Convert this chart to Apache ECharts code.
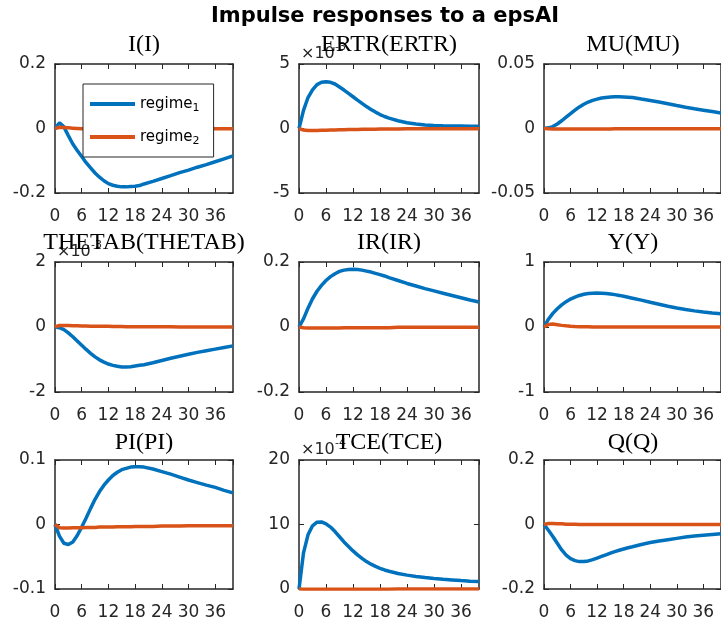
<!DOCTYPE html>
<html><head><meta charset="utf-8">
<script src="https://cdn.jsdelivr.net/npm/echarts@6/dist/echarts.min.js"></script>
<style>html,body{margin:0;padding:0;background:#fff}#c{width:721px;height:624px}</style>
</head><body><div id="c"></div>
<script>
// ---- data (horizon periods) ----
const periods = [0,1,2,3,4,5,6,7,8,9,10,11,12,13,14,15,16,17,18,19,20,22,24,26,28,30,32,34,36,38,40];
const seriesNames = ['regime1', 'regime2'];
const mainTitle = 'Impulse responses to a epsAI';
const panelTitles = ['I(I)', 'ERTR(ERTR)', 'MU(MU)', 'THETAB(THETAB)', 'IR(IR)', 'Y(Y)', 'PI(PI)', 'TCE(TCE)', 'Q(Q)'];
const xTicks = [0, 6, 12, 18, 24, 30, 36];

const I_r1 = [0,0.018,0.005,-0.022,-0.048,-0.068,-0.087,-0.106,-0.122,-0.138,-0.151,-0.162,-0.171,-0.176,-0.179,-0.181,-0.181,-0.180,-0.179,-0.177,-0.172,-0.164,-0.155,-0.146,-0.137,-0.129,-0.120,-0.112,-0.103,-0.094,-0.085];
const I_r2 = [0,0.004,0.003,0.002,0.001,0,-0.001,-0.001,-0.002,-0.002,-0.002,-0.002,-0.002,-0.002,-0.002,-0.002,-0.002,-0.002,-0.002,-0.002,-0.002,-0.002,-0.002,-0.002,-0.002,-0.002,-0.001,-0.001,-0.001,-0.001,-0.001];
// ERTR in units of 1e-3
const ERTR_r1 = [0,1.4,2.4,3.0,3.4,3.58,3.62,3.58,3.45,3.22,2.98,2.72,2.46,2.2,1.95,1.7,1.48,1.27,1.08,0.93,0.8,0.6,0.45,0.35,0.28,0.24,0.21,0.2,0.19,0.18,0.17];
const ERTR_r2 = [0,-0.12,-0.16,-0.16,-0.15,-0.14,-0.13,-0.12,-0.11,-0.1,-0.09,-0.08,-0.075,-0.07,-0.065,-0.06,-0.055,-0.05,-0.045,-0.04,-0.035,-0.03,-0.025,-0.02,-0.02,-0.015,-0.015,-0.01,-0.01,-0.01,-0.01];
const MU_r1 = [0,0.0005,0.0015,0.0035,0.006,0.0088,0.0115,0.0142,0.0167,0.0188,0.0205,0.0218,0.0228,0.0236,0.0241,0.0244,0.0246,0.0246,0.0245,0.0243,0.024,0.0228,0.0217,0.0205,0.0192,0.0178,0.0165,0.0153,0.0142,0.0131,0.012];
const MU_r2 = [0,-0.0002,-0.0003,-0.0004,-0.0004,-0.0004,-0.0004,-0.0004,-0.0004,-0.0004,-0.0003,-0.0003,-0.0003,-0.0003,-0.0003,-0.0003,-0.0002,-0.0002,-0.0002,-0.0002,-0.0002,-0.0002,-0.0002,-0.0001,-0.0001,-0.0001,-0.0001,-0.0001,-0.0001,-0.0001,-0.0001];
// THETAB in units of 1e-3
const THETAB_r1 = [0,-0.02,-0.08,-0.18,-0.3,-0.43,-0.56,-0.69,-0.81,-0.92,-1.01,-1.08,-1.14,-1.18,-1.21,-1.23,-1.23,-1.22,-1.2,-1.18,-1.16,-1.1,-1.03,-0.96,-0.9,-0.84,-0.78,-0.73,-0.68,-0.63,-0.58];
const THETAB_r2 = [0,0.05,0.05,0.045,0.04,0.035,0.03,0.03,0.025,0.025,0.02,0.02,0.02,0.015,0.015,0.015,0.01,0.01,0.01,0.01,0.01,0.005,0.005,0.005,0,0,0,0,0,0,0];
const IR_r1 = [0,0.025,0.058,0.087,0.11,0.128,0.143,0.155,0.164,0.171,0.175,0.177,0.178,0.177,0.175,0.172,0.169,0.165,0.161,0.157,0.152,0.143,0.134,0.126,0.118,0.111,0.104,0.097,0.09,0.083,0.077];
const IR_r2 = [0,-0.002,-0.003,-0.003,-0.003,-0.003,-0.003,-0.003,-0.003,-0.003,-0.002,-0.002,-0.002,-0.002,-0.002,-0.002,-0.002,-0.002,-0.002,-0.002,-0.002,-0.001,-0.001,-0.001,-0.001,-0.001,-0.001,-0.001,-0.001,-0.001,-0.001];
const Y_r1 = [0,0.12,0.21,0.28,0.34,0.39,0.43,0.46,0.485,0.503,0.515,0.521,0.523,0.521,0.516,0.508,0.498,0.486,0.472,0.458,0.443,0.413,0.38,0.35,0.32,0.292,0.268,0.248,0.23,0.215,0.203];
const Y_r2 = [0,0.04,0.045,0.035,0.025,0.018,0.012,0.008,0.005,0.003,0.002,0.001,0,0,0,0,0,0,0,0,0,0,0,0,0,0,0,0,0,0,0];
const PI_r1 = [0,-0.018,-0.029,-0.031,-0.027,-0.017,-0.004,0.01,0.025,0.039,0.051,0.061,0.069,0.076,0.081,0.085,0.087,0.089,0.0895,0.0895,0.089,0.086,0.082,0.078,0.0735,0.069,0.065,0.061,0.0575,0.053,0.049];
const PI_r2 = [0,-0.005,-0.0055,-0.0055,-0.005,-0.005,-0.005,-0.0045,-0.0045,-0.0045,-0.004,-0.004,-0.004,-0.004,-0.0035,-0.0035,-0.0035,-0.0035,-0.003,-0.003,-0.003,-0.003,-0.0025,-0.0025,-0.0025,-0.002,-0.002,-0.002,-0.002,-0.002,-0.002];
// TCE in units of 1e-4
const TCE_r1 = [0,5.6,8.4,9.8,10.35,10.4,10.1,9.6,8.9,8.1,7.3,6.6,5.9,5.3,4.75,4.25,3.85,3.5,3.2,2.95,2.75,2.4,2.15,1.95,1.78,1.62,1.5,1.4,1.3,1.22,1.15];
const TCE_r2 = [0,-0.03,-0.03,-0.03,-0.03,-0.03,-0.03,-0.03,-0.03,-0.03,-0.02,-0.02,-0.02,-0.02,-0.02,-0.02,-0.02,-0.02,-0.02,-0.02,-0.02,-0.01,-0.01,-0.01,-0.01,-0.01,-0.01,-0.01,-0.01,-0.01,-0.01];
const Q_r1 = [0,-0.018,-0.037,-0.058,-0.079,-0.095,-0.106,-0.112,-0.115,-0.115,-0.113,-0.109,-0.104,-0.099,-0.094,-0.089,-0.084,-0.08,-0.076,-0.072,-0.069,-0.062,-0.056,-0.051,-0.047,-0.043,-0.039,-0.036,-0.033,-0.031,-0.029];
const Q_r2 = [0,0.003,0.003,0.002,0.002,0.001,0.001,0.001,0,0,0,0,0,0,0,0,0,0,0,0,0,0,0,0,0,0,0,0,0,0,0];

const panelData = [[I_r1,I_r2],[ERTR_r1,ERTR_r2],[MU_r1,MU_r2],[THETAB_r1,THETAB_r2],[IR_r1,IR_r2],[Y_r1,Y_r2],[PI_r1,PI_r2],[TCE_r1,TCE_r2],[Q_r1,Q_r2]];
const yRanges = [[-0.2,0.2,0.2],[-5,5,5],[-0.05,0.05,0.05],[-2,2,2],[-0.2,0.2,0.2],[-1,1,1],[-0.1,0.1,0.1],[0,20,10],[-0.2,0.2,0.2]];
const exponents = [null,'-3',null,'-3',null,null,null,'-4',null];

// ---- layout ----
const colors = ['#0072BD', '#D95319'];
const L = [55, 299, 544], W = [178, 180, 178];
const T = [64, 262, 460], H = [129, 130, 129];
const titleY = [45, 243, 443];
const axisColor = '#262626';
const tickFont = 'DejaVu Sans';

const grid = [], xAxis = [], yAxis = [], series = [], graphic = [];
graphic.push({type:'text', x:385, y:17, z:100, style:{text:mainTitle, x:0, y:0, textAlign:'center', textVerticalAlign:'middle', font:'bold 21px "DejaVu Sans"', fill:'#000'}});

panelData.forEach((pd, i) => {
  const r = Math.floor(i/3), c = i % 3;
  grid.push({left:L[c], top:T[r], width:W[c], height:H[r], show:false, containLabel:false});
  const lineS = {show:true, onZero:false, lineStyle:{color:axisColor, width:1.5}};
  const tickS = {show:true, inside:true, length:5, lineStyle:{color:axisColor, width:1}};
  xAxis.push({gridIndex:i, type:'value', min:0, max:40, interval:6, position:'bottom',
    axisLine:lineS, axisTick:tickS, splitLine:{show:false},
    axisLabel:{show:true, color:axisColor, fontFamily:tickFont, fontSize:17, margin:15, showMaxLabel:false,
      formatter: v => xTicks.indexOf(v) >= 0 ? String(v) : ''}});
  xAxis.push({gridIndex:i, type:'value', min:0, max:40, interval:6, position:'top',
    axisLine:lineS, axisTick:tickS, splitLine:{show:false}, axisLabel:{show:false}});
  const [mn, mx, iv] = yRanges[i];
  yAxis.push({gridIndex:i, type:'value', min:mn, max:mx, interval:iv, position:'left',
    axisLine:lineS, axisTick:tickS, splitLine:{show:false},
    axisLabel:{show:true, color:axisColor, fontFamily:tickFont, fontSize:17, margin:9}});
  yAxis.push({gridIndex:i, type:'value', min:mn, max:mx, interval:iv, position:'right',
    axisLine:lineS, axisTick:tickS, splitLine:{show:false}, axisLabel:{show:false}});
  pd.forEach((vals, k) => {
    series.push({name:seriesNames[k], type:'line', xAxisIndex:2*i, yAxisIndex:2*i,
      data: periods.map((t, j) => [t, vals[j]]), symbol:'none', showSymbol:false,
      lineStyle:{color:colors[k], width:3.5}, itemStyle:{color:colors[k]}, z:2+k, animation:false});
  });
  if (exponents[i]) {
    graphic.push({type:'text', x:L[c]+2, y:T[r]-2, z:50, style:{text:'\u00d710', textAlign:'left', textVerticalAlign:'bottom', font:'16px "DejaVu Sans"', fill:axisColor}});
    graphic.push({type:'text', x:L[c]+36, y:T[r]-11, z:50, style:{text:exponents[i], textAlign:'left', textVerticalAlign:'bottom', font:'11px "DejaVu Sans"', fill:axisColor}});
  }
  graphic.push({type:'text', x:L[c]+W[c]/2, y:titleY[r], z:60, style:{text:panelTitles[i], textAlign:'center', textVerticalAlign:'middle', font:'24px "Liberation Serif"', fill:'#000'}});
});

const chart = echarts.init(document.getElementById('c'), null, {renderer:'canvas'});
chart.setOption({
  animation:false,
  backgroundColor:'#fff',
  grid, xAxis, yAxis, series, graphic,
  legend:{data:seriesNames, orient:'vertical', left:83, top:84, padding:[10,14,10,7], itemGap:13,
    icon:'rect', itemWidth:45, itemHeight:4, backgroundColor:'#fff', borderColor:'#262626', borderWidth:1, z:20,
    selectedMode:false,
    formatter: n => n === 'regime1' ? 'regime{s|1}' : 'regime{s|2}',
    textStyle:{fontFamily:'DejaVu Sans', fontSize:15, color:'#000', lineHeight:20,
      rich:{s:{fontFamily:'DejaVu Sans', fontSize:11, lineHeight:12, verticalAlign:'bottom', color:'#000'}}}}
});
</script></body></html>
